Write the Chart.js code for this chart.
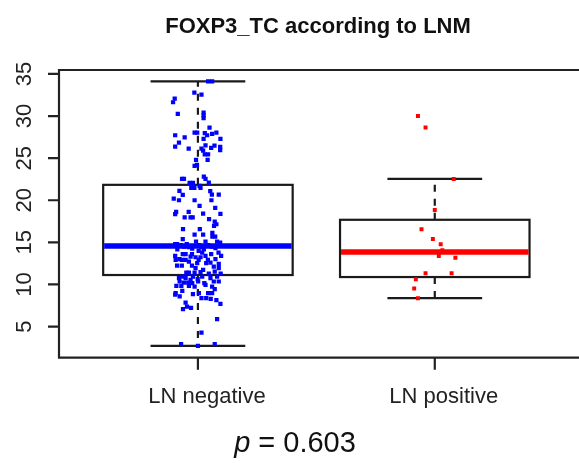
<!DOCTYPE html>
<html>
<head>
<meta charset="utf-8">
<script src="https://cdn.jsdelivr.net/npm/chart.js@4/dist/chart.umd.min.js"></script>
<style>
  body { margin: 0; background: #fff; overflow: hidden; }
</style>
</head>
<body>
<canvas id="chart" width="579" height="463"></canvas>
<script>
const categories = ['LN negative', 'LN positive'];
const yTicks = [5, 10, 15, 20, 25, 30, 35];
const chartTitle = 'FOXP3_TC according to LNM';
const pValue = '0.603';

// box stats: [lower whisker, Q1, median, Q3, upper whisker]
const negBox = [2.71, 11.12, 14.56, 21.83, 34.13];
const posBox = [8.37, 10.88, 13.85, 17.68, 22.53];

// jittered points (jitter in category units)
const negValues = [34.13,34.13,32.78,32.55,32.07,31.64,30.25,30.41,30.09,29.74,
  28.63,27.72,27.48,28.04,28.04,27.96,27.72,27.88,28.04,27.28,
  27.28,26.85,26.37,26.14,26.14,26.53,26.21,26.49,26.33,25.94,
  25.90,25.46,25.46,24.79,24.79,24.20,24.08,22.53,22.53,22.81,
  22.53,22.06,22.06,21.47,21.47,21.70,21.47,22.10,21.11,20.63,
  20.20,20.00,21.07,20.67,20.67,20.00,20.00,19.33,19.09,18.62,
  18.34,18.62,18.42,18.38,17.98,17.98,17.98,17.75,17.47,17.15,
  16.95,16.56,16.56,15.93,15.93,16.12,15.37,15.69,15.69,14.78,
  14.78,14.78,15.10,15.10,15.10,14.98,14.66,14.50,14.42,14.66,
  14.42,14.66,14.50,14.30,14.18,14.26,14.18,13.39,13.00,13.59,
  13.59,13.59,13.99,13.79,13.39,13.59,13.79,13.39,12.92,12.92,
  12.92,12.92,12.92,12.60,12.44,12.25,12.25,12.25,12.52,12.52,
  11.93,11.53,11.30,11.41,11.41,11.41,11.45,11.73,10.94,10.74,
  10.74,10.94,10.62,10.94,10.94,10.35,10.23,10.23,10.15,10.35,
  10.15,9.95,10.35,10.35,9.83,9.83,9.83,9.75,9.75,9.44,
  8.96,9.24,8.84,8.96,8.96,8.96,8.80,8.57,8.37,8.37,
  8.29,7.85,8.13,7.69,7.06,7.38,7.22,5.87,4.29,2.91,
  2.71,2.91,13.31,13.23,13.23,13.00,12.72,12.13,11.93,11.29,
  10.54,10.74];
const negJitter = [0.043,0.060,-0.015,0.015,-0.098,-0.105,-0.085,0.024,0.024,0.024,
  0.049,-0.096,-0.056,-0.014,-0.003,0.029,0.039,0.060,0.078,0.095,
  0.024,-0.080,-0.096,-0.039,0.015,0.032,0.056,0.070,0.094,0.094,
  0.022,0.029,0.043,0.041,-0.008,-0.004,-0.014,-0.059,-0.067,0.025,
  0.032,-0.035,-0.021,-0.015,-0.028,0.007,0.011,0.046,-0.078,-0.064,
  -0.102,-0.080,0.052,0.059,0.088,-0.014,0.057,0.007,0.073,-0.092,
  -0.096,-0.039,0.022,0.095,-0.056,-0.031,-0.022,0.047,0.071,0.078,
  0.068,-0.063,0.008,-0.014,0.022,0.061,-0.064,0.061,0.073,-0.096,
  -0.088,-0.047,-0.008,0.032,0.081,0.094,-0.073,-0.059,-0.038,0.004,
  0.015,0.043,0.060,0.074,-0.087,-0.024,0.025,-0.096,-0.078,-0.052,
  -0.064,-0.025,0.003,0.018,0.032,0.056,0.087,0.098,-0.094,-0.068,
  -0.052,0.003,0.042,0.053,0.088,-0.088,-0.068,-0.025,-0.003,0.035,
  0.088,0.071,0.096,-0.049,-0.038,-0.014,0.011,0.022,-0.064,-0.080,
  -0.052,-0.021,-0.001,0.018,0.081,-0.077,-0.059,-0.041,-0.024,0.001,
  0.027,0.032,0.067,0.088,-0.091,-0.070,-0.038,-0.014,0.060,0.071,
  -0.094,-0.066,-0.021,0.004,0.043,0.060,-0.096,-0.077,0.015,0.035,
  0.054,-0.052,0.078,0.095,-0.063,-0.046,-0.029,0.081,0.015,-0.071,
  0,0.071,-0.031,-0.010,0.011,0.074,-0.038,0.067,-0.010,0.046,
  -0.031,0.053];

const posValues = [30.01,28.63,22.53,18.85,16.56,15.41,14.78,14.07,13.39,13.16,11.34,11.34,10.62,9.52,8.37];
const posJitter = [-0.071,-0.039,0.080,0,-0.056,-0.008,0.025,0.032,0.017,0.087,-0.039,0.071,-0.080,-0.087,-0.071];

const FONT = '"Liberation Sans", Arial, sans-serif';

function toPoints(values, jitter, pos) {
  return values.map((v, i) => ({ x: pos + jitter[i], y: v }));
}

// boxes, whiskers and medians, drawn under the points
const boxPlugin = {
  id: 'boxes',
  beforeDatasetsDraw(chart) {
    const ctx = chart.ctx;
    const x = chart.scales.x, y = chart.scales.y;
    const boxes = [
      { stats: negBox, color: '#0000ff' },
      { stats: posBox, color: '#ff0000' }
    ];
    boxes.forEach((b, i) => {
      const pos = i + 1;
      const [lo, q1, med, q3, hi] = b.stats;
      const l = x.getPixelForValue(pos - 0.4), r = x.getPixelForValue(pos + 0.4);
      const cl = x.getPixelForValue(pos - 0.2), cr = x.getPixelForValue(pos + 0.2);
      const cx = x.getPixelForValue(pos);
      ctx.save();
      ctx.strokeStyle = '#1a1a1a';
      ctx.lineWidth = 2.2;
      // whiskers
      ctx.setLineDash([7, 7]);
      ctx.beginPath();
      ctx.moveTo(cx, y.getPixelForValue(q3)); ctx.lineTo(cx, y.getPixelForValue(hi));
      ctx.moveTo(cx, y.getPixelForValue(q1)); ctx.lineTo(cx, y.getPixelForValue(lo));
      ctx.stroke();
      ctx.setLineDash([]);
      // caps
      ctx.beginPath();
      ctx.moveTo(cl, y.getPixelForValue(hi)); ctx.lineTo(cr, y.getPixelForValue(hi));
      ctx.moveTo(cl, y.getPixelForValue(lo)); ctx.lineTo(cr, y.getPixelForValue(lo));
      ctx.stroke();
      // box
      const top = y.getPixelForValue(q3), bot = y.getPixelForValue(q1);
      ctx.fillStyle = '#fff';
      ctx.fillRect(l, top, r - l, bot - top);
      ctx.strokeRect(l, top, r - l, bot - top);
      // median
      ctx.strokeStyle = b.color;
      ctx.lineWidth = 5.5;
      ctx.beginPath();
      ctx.moveTo(l + 1, y.getPixelForValue(med)); ctx.lineTo(r - 1, y.getPixelForValue(med));
      ctx.stroke();
      ctx.restore();
    });
  }
};

// frame, ticks and all text
const framePlugin = {
  id: 'frame',
  afterDraw(chart) {
    const ctx = chart.ctx;
    const a = chart.chartArea;
    const x = chart.scales.x, y = chart.scales.y;
    ctx.save();
    ctx.strokeStyle = '#222';
    ctx.lineWidth = 2.2;
    ctx.beginPath();
    ctx.moveTo(chart.width + 5, a.top); ctx.lineTo(a.left, a.top);
    ctx.lineTo(a.left, a.bottom); ctx.lineTo(chart.width + 5, a.bottom);
    yTicks.forEach(t => {
      const py = y.getPixelForValue(t);
      ctx.moveTo(a.left - 11, py); ctx.lineTo(a.left, py);
    });
    categories.forEach((c, i) => {
      const px = x.getPixelForValue(i + 1);
      ctx.moveTo(px, a.bottom); ctx.lineTo(px, a.bottom + 12);
    });
    ctx.stroke();

    ctx.fillStyle = '#222';
    ctx.font = '22px ' + FONT;
    yTicks.forEach(t => {
      const py = y.getPixelForValue(t);
      ctx.save();
      ctx.translate(31, py);
      ctx.rotate(-Math.PI / 2);
      ctx.textAlign = 'center';
      ctx.textBaseline = 'alphabetic';
      ctx.fillText(String(t), 0, 0);
      ctx.restore();
    });
    ctx.textAlign = 'center';
    ctx.textBaseline = 'alphabetic';
    categories.forEach((c, i) => {
      ctx.fillText(c, x.getPixelForValue(i + 1) + 9, 403);
    });

    ctx.fillStyle = '#111';
    ctx.font = 'bold 22px ' + FONT;
    ctx.fillText(chartTitle, 318, 33);

    // p value, italic p
    ctx.font = 'italic 29px ' + FONT;
    const pW = ctx.measureText('p').width;
    ctx.font = '29px ' + FONT;
    const restText = ' = ' + pValue;
    const rW = ctx.measureText(restText).width;
    const startX = 295 - (pW + rW) / 2;
    ctx.textAlign = 'left';
    ctx.font = 'italic 29px ' + FONT;
    ctx.fillText('p', startX, 452);
    ctx.font = '29px ' + FONT;
    ctx.fillText(restText, startX + pW, 452);
    ctx.restore();
  }
};

const xMin = 0.4135, xMax = 2.592;

new Chart(document.getElementById('chart').getContext('2d'), {
  type: 'scatter',
  data: {
    datasets: [{
      label: categories[0],
      data: toPoints(negValues, negJitter, 1),
      backgroundColor: '#0000ff',
      borderWidth: 0,
      pointStyle: 'rect',
      pointRadius: 3
    }, {
      label: categories[1],
      data: toPoints(posValues, posJitter, 2),
      backgroundColor: '#ff0000',
      borderWidth: 0,
      pointStyle: 'rect',
      pointRadius: 2.8
    }]
  },
  options: {
    responsive: false,
    animation: false,
    layout: { padding: { left: 59, top: 70, right: 0, bottom: 105.3 } },
    scales: {
      x: { type: 'linear', min: xMin, max: xMax, display: false },
      y: { min: 1.3, max: 35.47, display: false }
    },
    plugins: {
      legend: { display: false },
      tooltip: { enabled: false }
    }
  },
  plugins: [boxPlugin, framePlugin]
});
</script>
</body>
</html>
